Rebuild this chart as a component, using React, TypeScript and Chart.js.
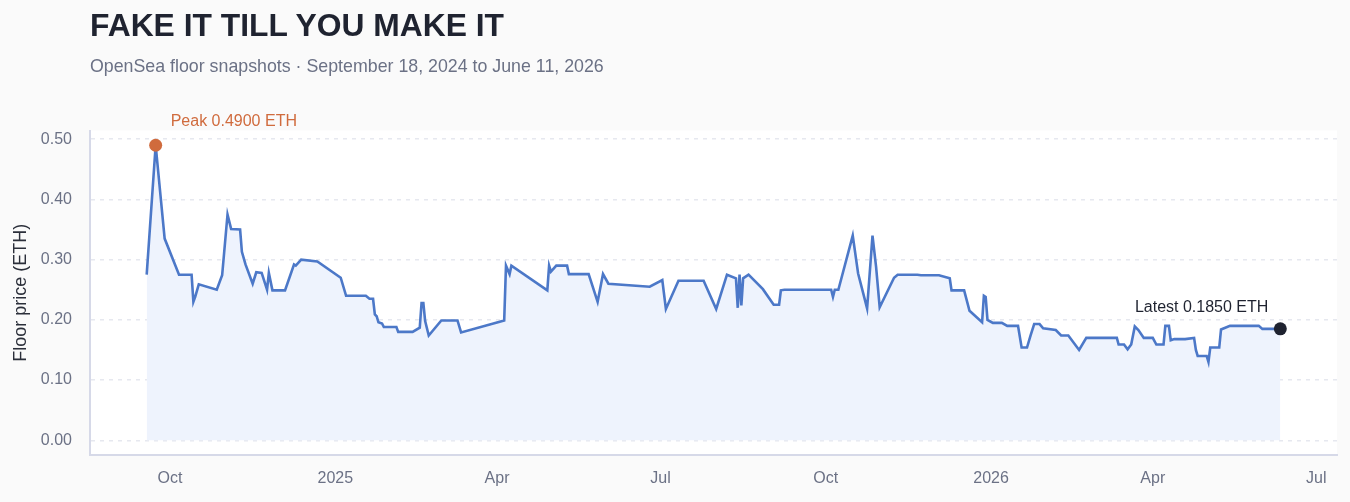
import React, { useEffect, useRef } from 'react';
import { Chart, registerables } from 'chart.js';

Chart.register(...registerables);

const TITLE = 'FAKE IT TILL YOU MAKE IT';
const SUBTITLE = 'OpenSea floor snapshots · September 18, 2024 to June 11, 2026';
const Y_TITLE = 'Floor price (ETH)';

const snapshotDates: string[] = [
  '2024-09-18', '2024-09-23', '2024-09-28', '2024-10-06', '2024-10-13', '2024-10-14', '2024-10-15', '2024-10-17',
  '2024-10-27', '2024-10-30', '2024-11-02', '2024-11-04', '2024-11-09', '2024-11-10', '2024-11-12', '2024-11-16',
  '2024-11-18', '2024-11-21', '2024-11-24', '2024-11-25', '2024-11-27', '2024-12-04', '2024-12-09', '2024-12-10',
  '2024-12-13', '2024-12-22', '2025-01-04', '2025-01-07', '2025-01-18', '2025-01-20', '2025-01-22', '2025-01-23',
  '2025-01-24', '2025-01-25', '2025-01-27', '2025-01-28', '2025-02-04', '2025-02-05', '2025-02-13', '2025-02-17',
  '2025-02-18', '2025-02-19', '2025-02-20', '2025-02-22', '2025-03-01', '2025-03-10', '2025-03-12', '2025-04-05',
  '2025-04-06', '2025-04-08', '2025-04-09', '2025-04-29', '2025-04-30', '2025-05-01', '2025-05-04', '2025-05-10',
  '2025-05-11', '2025-05-22', '2025-05-27', '2025-05-30', '2025-06-02', '2025-06-25', '2025-07-02', '2025-07-04',
  '2025-07-11', '2025-07-25', '2025-08-01', '2025-08-07', '2025-08-12', '2025-08-13', '2025-08-14', '2025-08-15',
  '2025-08-16', '2025-08-19', '2025-08-27', '2025-09-02', '2025-09-05', '2025-09-06', '2025-09-08', '2025-10-04',
  '2025-10-05', '2025-10-06', '2025-10-08', '2025-10-16', '2025-10-19', '2025-10-24', '2025-10-27', '2025-10-29',
  '2025-10-31', '2025-11-08', '2025-11-10', '2025-11-21', '2025-11-23', '2025-12-03', '2025-12-09', '2025-12-10',
  '2025-12-17', '2025-12-20', '2025-12-27', '2025-12-28', '2025-12-29', '2025-12-30', '2026-01-02', '2026-01-07',
  '2026-01-10', '2026-01-16', '2026-01-18', '2026-01-21', '2026-01-23', '2026-01-25', '2026-01-28', '2026-01-30',
  '2026-02-06', '2026-02-09', '2026-02-13', '2026-02-19', '2026-02-23', '2026-03-12', '2026-03-13', '2026-03-16',
  '2026-03-18', '2026-03-20', '2026-03-22', '2026-03-24', '2026-03-27', '2026-04-01', '2026-04-03', '2026-04-07',
  '2026-04-08', '2026-04-10', '2026-04-11', '2026-04-13', '2026-04-19', '2026-04-24', '2026-04-25', '2026-04-26',
  '2026-05-01', '2026-05-02', '2026-05-03', '2026-05-08', '2026-05-09', '2026-05-14', '2026-05-30', '2026-06-01',
  '2026-06-11',
];

const floorPrices: number[] = [
  0.275, 0.49, 0.335, 0.275, 0.275, 0.23, 0.238, 0.259,
  0.25, 0.274, 0.375, 0.351, 0.35, 0.313, 0.292, 0.26,
  0.279, 0.278, 0.25, 0.278, 0.249, 0.249, 0.292, 0.29,
  0.3, 0.297, 0.27, 0.24, 0.24, 0.235, 0.235, 0.209,
  0.206, 0.196, 0.194, 0.188, 0.188, 0.18, 0.18, 0.187,
  0.228, 0.228, 0.198, 0.174, 0.199, 0.199, 0.179, 0.199,
  0.29, 0.276, 0.29, 0.249, 0.29, 0.28, 0.29, 0.29,
  0.276, 0.276, 0.23, 0.276, 0.26, 0.255, 0.266, 0.218,
  0.265, 0.265, 0.218, 0.275, 0.269, 0.22, 0.275, 0.224,
  0.269, 0.275, 0.251, 0.225, 0.225, 0.249, 0.25, 0.25,
  0.238, 0.25, 0.25, 0.34, 0.277, 0.219, 0.34, 0.288,
  0.221, 0.27, 0.275, 0.275, 0.274, 0.274, 0.269, 0.249,
  0.249, 0.215, 0.196, 0.24, 0.238, 0.2, 0.195, 0.195,
  0.19, 0.19, 0.154, 0.154, 0.174, 0.193, 0.193, 0.186,
  0.183, 0.174, 0.174, 0.15, 0.17, 0.17, 0.159, 0.159,
  0.151, 0.159, 0.189, 0.183, 0.17, 0.17, 0.159, 0.159,
  0.19, 0.19, 0.166, 0.168, 0.168, 0.17, 0.15, 0.14,
  0.14, 0.13, 0.154, 0.154, 0.184, 0.19, 0.19, 0.185,
  0.185,
];

const xTickDates: string[] = ['2024-10-01', '2025-01-01', '2025-04-01', '2025-07-01', '2025-10-01', '2026-01-01', '2026-04-01', '2026-07-01'];
const xTickLabels: string[] = ['Oct', '2025', 'Apr', 'Jul', 'Oct', '2026', 'Apr', 'Jul'];
const yTickValues: number[] = [0, 0.1, 0.2, 0.3, 0.4, 0.5];

const toDay = (s: string) => {
  const [y, m, d] = s.split('-').map(Number);
  return Date.UTC(y, m - 1, d) / 86400000;
};

const FONT = "'Liberation Sans', Arial, Helvetica, sans-serif";

export default function App() {
  const canvasRef = useRef<HTMLCanvasElement | null>(null);

  useEffect(() => {
    const canvas = canvasRef.current;
    if (!canvas) return;

    const points = snapshotDates.map((d, i) => ({ x: toDay(d), y: floorPrices[i] }));
    const first = points[0].x;
    const last = points[points.length - 1].x;
    const span = last - first;
    let peakIdx = 0;
    floorPrices.forEach((v, i) => { if (v > floorPrices[peakIdx]) peakIdx = i; });
    const peak = points[peakIdx];
    const latest = points[points.length - 1];
    const peakVal = floorPrices[peakIdx];

    const tickDays = xTickDates.map(toDay);

    const bgPlugin = {
      id: 'areaBg',
      beforeDraw(chart: any) {
        const { ctx, chartArea } = chart;
        ctx.save();
        ctx.fillStyle = '#ffffff';
        ctx.fillRect(chartArea.left, chartArea.top, chartArea.right - chartArea.left, chartArea.bottom - chartArea.top);
        ctx.restore();
      },
    };

    const labelPlugin = {
      id: 'markerLabels',
      afterDatasetsDraw(chart: any) {
        const { ctx, scales } = chart;
        const px = scales.x.getPixelForValue(peak.x);
        const py = scales.y.getPixelForValue(peak.y);
        const lx = scales.x.getPixelForValue(latest.x);
        const ly = scales.y.getPixelForValue(latest.y);
        ctx.save();
        ctx.font = `16px ${FONT}`;
        ctx.textBaseline = 'alphabetic';
        ctx.fillStyle = '#d06b3d';
        ctx.textAlign = 'left';
        ctx.fillText(`Peak ${peak.y.toFixed(4)} ETH`, px + 15, py - 19);
        ctx.fillStyle = '#1f2330';
        ctx.textAlign = 'right';
        ctx.fillText(`Latest ${latest.y.toFixed(4)} ETH`, lx - 12, ly - 17);
        ctx.restore();
      },
    };

    const chart = new Chart(canvas, {
      type: 'line',
      data: {
        datasets: [
          {
            label: 'Floor',
            data: points,
            borderColor: '#4c78c8',
            borderWidth: 2.6,
            backgroundColor: '#eef3fd',
            fill: 'origin',
            pointRadius: 0,
            tension: 0,
            order: 3,
          },
          {
            label: 'Peak',
            data: [peak],
            showLine: false,
            pointRadius: 6.5,
            pointBackgroundColor: '#d06b3d',
            pointBorderWidth: 0,
            order: 1,
          },
          {
            label: 'Latest',
            data: [latest],
            showLine: false,
            pointRadius: 6.5,
            pointBackgroundColor: '#1f2330',
            pointBorderWidth: 0,
            order: 1,
          },
        ],
      },
      options: {
        responsive: false,
        animation: false,
        devicePixelRatio: 1,
        layout: { padding: { top: 130.5, right: 13, bottom: 0, left: 0 } },
        plugins: {
          legend: { display: false },
          tooltip: { enabled: false },
          title: { display: false },
        },
        scales: {
          x: {
            type: 'linear',
            min: first - span * 0.05,
            max: last + span * 0.05,
            afterBuildTicks: (scale: any) => {
              scale.ticks = tickDays.map((v) => ({ value: v }));
            },
            afterFit: (scale: any) => { scale.height = 47; },
            ticks: {
              autoSkip: false,
              maxRotation: 0,
              padding: 14,
              color: '#6b7185',
              font: { family: FONT, size: 16 },
              callback: (value: any) => {
                const i = tickDays.indexOf(Number(value));
                return i >= 0 ? xTickLabels[i] : '';
              },
            },
            grid: { display: false, drawTicks: false },
            border: { display: true, color: '#d6d9e8', width: 2 },
          },
          y: {
            type: 'linear',
            min: -peakVal * 0.05,
            max: peakVal * 1.05,
            afterBuildTicks: (scale: any) => {
              scale.ticks = yTickValues.map((v) => ({ value: v }));
            },
            afterFit: (scale: any) => { scale.width = 90; },
            ticks: {
              padding: 18,
              color: '#6b7185',
              font: { family: FONT, size: 16 },
              callback: (value: any) => Number(value).toFixed(2),
            },
            title: {
              display: true,
              text: Y_TITLE,
              color: '#2b2f3a',
              font: { family: FONT, size: 18 },
              padding: { top: 10, bottom: 0 },
            },
            grid: {
              color: '#e6e8ef',
              lineWidth: 1.5,
              drawTicks: false,
            },
            border: { display: true, color: '#d6d9e8', width: 2, dash: [4, 5] },
          },
        },
      } as any,
      plugins: [bgPlugin, labelPlugin],
    });

    return () => chart.destroy();
  }, []);

  return (
    <div style={{ position: 'fixed', left: 0, top: 0, width: 1350, height: 502, background: '#fafafa', overflow: 'hidden' }}>
      <canvas ref={canvasRef} width={1350} height={502} style={{ position: 'absolute', left: 0, top: 0, width: 1350, height: 502 }} />
      <div style={{ position: 'absolute', left: 90, top: 9, fontFamily: FONT, fontWeight: 700, fontSize: 31.8, lineHeight: '32px', color: '#1f2330', whiteSpace: 'nowrap' }}>
        {TITLE}
      </div>
      <div style={{ position: 'absolute', left: 90, top: 57, fontFamily: FONT, fontSize: 17.8, lineHeight: '18px', color: '#6b7185', whiteSpace: 'nowrap' }}>
        {SUBTITLE}
      </div>
    </div>
  );
}
